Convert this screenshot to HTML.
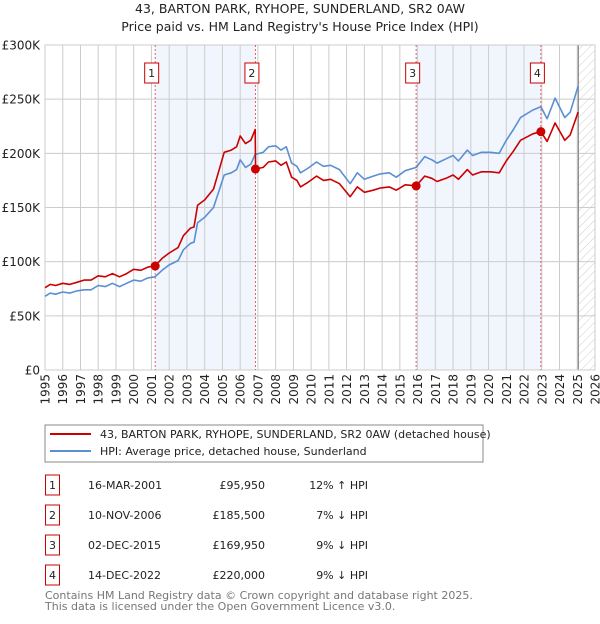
<!DOCTYPE html>
<html><head><meta charset="utf-8"><style>
body{margin:0;background:#fff;font-family:"DejaVu Sans","Liberation Sans",sans-serif;}
svg text{font-family:"DejaVu Sans","Liberation Sans",sans-serif;}
</style></head><body>
<svg id="chart" width="600" height="620" xmlns="http://www.w3.org/2000/svg">
<defs><pattern id="hatch" width="6" height="6" patternUnits="userSpaceOnUse" patternTransform="rotate(45)"><line x1="0" y1="0" x2="0" y2="6" stroke="#ccc" stroke-width="1"/></pattern></defs>
<text x="300" y="13" text-anchor="middle" font-size="12.5" fill="#222">43, BARTON PARK, RYHOPE, SUNDERLAND, SR2 0AW</text>
<text x="300" y="31" text-anchor="middle" font-size="12.5" fill="#222">Price paid vs. HM Land Registry's House Price Index (HPI)</text>
<g id="plot"></g>
<rect x="45" y="425" width="438" height="37" fill="#fff" stroke="#888"/>
<line x1="50" y1="434" x2="91" y2="434" stroke="#cc0000" stroke-width="2"/>
<text x="100" y="438" font-size="11" fill="#222">43, BARTON PARK, RYHOPE, SUNDERLAND, SR2 0AW (detached house)</text>
<line x1="50" y1="451" x2="91" y2="451" stroke="#5b8fd4" stroke-width="2"/>
<text x="100" y="455" font-size="11" fill="#222">HPI: Average price, detached house, Sunderland</text>
<g id="table" font-size="11" fill="#222"></g>
<text x="45" y="599" font-size="11" fill="#777">Contains HM Land Registry data © Crown copyright and database right 2025.</text>
<text x="45" y="610" font-size="11" fill="#777">This data is licensed under the Open Government Licence v3.0.</text>
</svg>
<script>
const dates=[1995.0,1995.3,1995.6,1996.0,1996.4,1996.8,1997.2,1997.6,1998.0,1998.4,1998.8,1999.2,1999.6,2000.0,2000.4,2000.8,2001.2,2001.6,2002.0,2002.5,2002.8,2003.2,2003.4,2003.6,2004.0,2004.5,2004.8,2005.1,2005.5,2005.8,2006.0,2006.3,2006.6,2006.85,2006.87,2007.3,2007.6,2008.0,2008.3,2008.6,2008.9,2009.2,2009.4,2009.8,2010.3,2010.7,2011.1,2011.6,2012.2,2012.6,2013.0,2013.5,2013.9,2014.4,2014.8,2015.3,2015.92,2016.4,2016.8,2017.1,2017.6,2018.0,2018.3,2018.8,2019.1,2019.6,2020.1,2020.6,2021.0,2021.4,2021.8,2022.5,2022.95,2023.3,2023.75,2024.3,2024.6,2025.05];
const hpiValues=[68,71,70,72,71,73,74,74,78,77,80,77,80,83,82,85,86,92,97,101,111,117,118,136,141,150,165,180,182,185,194,187,190,199,199,201,206,207,203,206,191,188,182,186,192,188,189,185,172,182,176,179,181,182,178,184,187,197,194,191,195,198,193,203,198,201,201,200,212,222,233,240,243,232,251,233,238,262];
const propertyValues=[76,79,78,80,79,81,83,83,87,86,89,86,89,93,92,95,96,103,108,113,124,131,132,152,157,167,184,201,203,206,216,209,212,222,185.5,187,192,193,189,192,178,175,169,173,179,175,176,172,160,169,164,166,168,169,166,171,170,179,177,174,177,180,176,185,180,183,183,182,193,202,212,218,220,211,228,212,217,238];
const saleLabels=["1","2","3","4"];
const saleDates=[2001.21,2006.86,2015.92,2022.95];
const salePrices=[95.95,185.5,169.95,220];
const saleDateText=["16-MAR-2001","10-NOV-2006","02-DEC-2015","14-DEC-2022"];
const salePriceText=["£95,950","£185,500","£169,950","£220,000"];
const saleHpiText=["12% ↑ HPI","7% ↓ HPI","9% ↓ HPI","9% ↓ HPI"];
const yTicks=[0,50,100,150,200,250,300];
const yTickLabels=["£0","£50K","£100K","£150K","£200K","£250K","£300K"];
const xTicks=[1995,1996,1997,1998,1999,2000,2001,2002,2003,2004,2005,2006,2007,2008,2009,2010,2011,2012,2013,2014,2015,2016,2017,2018,2019,2020,2021,2022,2023,2024,2025,2026];
const dataEnd=2025.06;

const NS="http://www.w3.org/2000/svg";
const L=45,R=595,T=45,B=370;
const xs=d=>L+(d-1995)/(2026-1995)*(R-L);
const ys=v=>B-v/300*(B-T);
const g=document.getElementById('plot');
function mk(tag,at,parent){const e=document.createElementNS(NS,tag);for(const k in at)e.setAttribute(k,at[k]);(parent||g).appendChild(e);return e;}

let e=mk('rect',{x:L,y:T,width:R-L,height:B-T,fill:'#fff'});


[[0,1],[2,3]].forEach((p,i)=>{
  const r=mk('rect',{x:xs(saleDates[p[0]]),y:T,width:xs(saleDates[p[1]])-xs(saleDates[p[0]]),height:B-T,fill:'#eef3fc',opacity:0.8});
  
  
});
e=mk('rect',{x:xs(dataEnd),y:T,width:R-xs(dataEnd),height:B-T,fill:'url(#hatch)'});


xTicks.forEach(t=>{
  const l=mk('line',{x1:xs(t),x2:xs(t),y1:T,y2:B,stroke:'#ccc','stroke-width':1});
  
  
  const tx=mk('text',{x:0,y:0,transform:`translate(${xs(t)+4.5},374) rotate(-90)`,'text-anchor':'end','font-size':12,fill:'#222'});
  tx.textContent=t;
  
  
});
yTicks.forEach((t,i)=>{
  const l=mk('line',{x1:L,x2:R,y1:ys(t),y2:ys(t),stroke:'#ccc','stroke-width':1});
  
  
  const tx=mk('text',{x:40,y:ys(t)+4.5,'text-anchor':'end','font-size':12,fill:'#222'});
  tx.textContent=yTickLabels[i];
  
  
});
e=mk('line',{x1:xs(dataEnd),x2:xs(dataEnd),y1:T,y2:B,stroke:'#888','stroke-width':1.2});


e=mk('rect',{x:L,y:T,width:R-L,height:B-T,fill:'none',stroke:'#ccc'});


saleDates.forEach((d,i)=>{
  const l=mk('line',{x1:xs(d),x2:xs(d),y1:T,y2:B,stroke:'#e06060','stroke-width':1,'stroke-dasharray':'2,2'});
  
  
  const b=mk('rect',{x:xs(d)-10.5,y:63,width:14,height:20,fill:'#fff',stroke:'#c00'});
  
  
  const t=mk('text',{x:xs(d)-3.5,y:77,'text-anchor':'middle','font-size':11,fill:'#222'});
  t.textContent=saleLabels[i];
  
  
});
function line(vals,color,name){
  const pts=dates.map((d,i)=>xs(d).toFixed(1)+','+ys(vals[i]).toFixed(1)).join(' ');
  const p=mk('polyline',{points:pts,fill:'none',stroke:color,'stroke-width':1.6,'stroke-linejoin':'round'});
  
  
}
line(hpiValues,'#5b8fd4','hpi-line');
line(propertyValues,'#cc0000','property-price-line');
saleDates.forEach((d,i)=>{
  const c=mk('circle',{cx:xs(d),cy:ys(salePrices[i]),r:4.5,fill:'#cc0000'});
  
  
});
const tb=document.getElementById('table');
saleLabels.forEach((s,i)=>{
  const y=483+i*30;
  const b=mk('rect',{x:45.5,y:y-8,width:14,height:20,fill:'#fff',stroke:'#c00'},tb);
  
  
  const t1=mk('text',{x:52.5,y:y+6,'text-anchor':'middle'},tb);t1.textContent=s;
  
  
  const t2=mk('text',{x:88,y:y+6},tb);t2.textContent=saleDateText[i];
  
  
  const t3=mk('text',{x:265,y:y+6,'text-anchor':'end'},tb);t3.textContent=salePriceText[i];
  
  
  const t4=mk('text',{x:368,y:y+6,'text-anchor':'end'},tb);t4.textContent=saleHpiText[i];
  
  
});
</script>
</body></html>
